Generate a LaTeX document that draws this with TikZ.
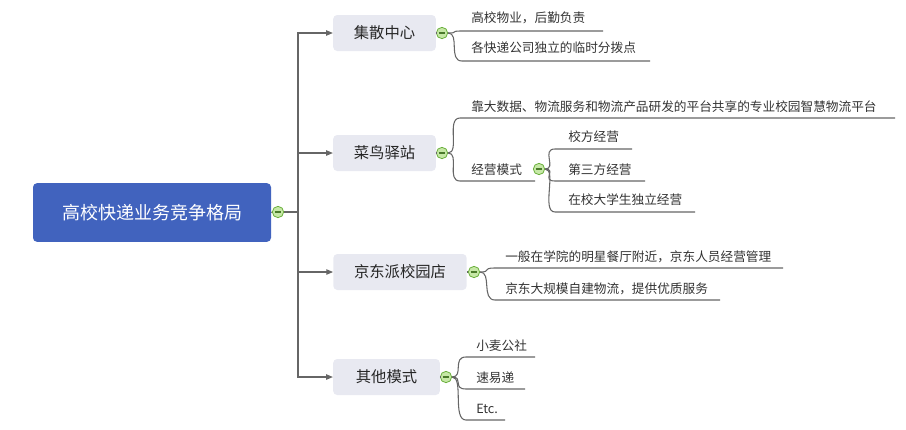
\documentclass[tikz,border=0pt]{standalone}
\usepackage{fontspec}
\setmainfont{Noto Sans CJK SC}
\usetikzlibrary{arrows.meta,calc}
\definecolor{rootc}{HTML}{4163BE}
\definecolor{boxc}{HTML}{E8E9F1}
\definecolor{linec}{HTML}{666666}
\definecolor{circf}{HTML}{C6E8A6}
\definecolor{circd}{HTML}{6AAF3C}
\begin{document}
\begin{tikzpicture}[x=0.75pt,y=-0.75pt,
  ln/.style={draw=linec,line width=0.8pt},
  box/.style={fill=boxc,rounded corners=3pt,minimum height=27pt,inner xsep=14pt,font=\fontsize{11.5}{13}\selectfont,text=black!85},
  leaf/.style={font=\fontsize{9.5}{11}\selectfont,text=black!80,anchor=west,inner sep=0pt},
  tog/.style={circle,draw=circd,fill=circf,minimum size=8.5pt,inner sep=0pt,line width=0.6pt,path picture={\draw[circd!70!black,line width=0.8pt] ([xshift=-2.5pt]path picture bounding box.center)--([xshift=2.5pt]path picture bounding box.center);}}]
\useasboundingbox (0,0) rectangle (906,429);
\newcommand{\cv}[3]{\draw[ln] (#1.east) .. controls ($(#1.east)+(12,0)$) and ($(#2)+(-14,0)$) .. (#2) -- (#3);}
% root
\node[fill=rootc,rounded corners=3pt,minimum width=178.5pt,minimum height=44pt,text=white,font=\fontsize{13.5}{15}\selectfont] (root) at (152,212.5) {高校快递业务竞争格局};
\node[tog] (t0) at (278,212) {};
\draw[ln] (root.east) -- (t0.west);
\coordinate (tr) at (298,212);
\draw[ln] (t0.east) -- (tr);
\node[box,minimum width=77pt] (b1) at (384.5,33) {集散中心};
\node[box,minimum width=77pt] (b2) at (384.5,153) {菜鸟驿站};
\node[box,minimum width=100pt] (b3) at (400,272) {京东派校园店};
\node[box,minimum width=80pt] (b4) at (386.5,377) {其他模式};
\foreach \b/\y in {b1/33,b2/153,b3/272,b4/377}{
  \draw[ln,-{Triangle[length=5pt,width=4pt]}] (tr) -- (298,\y) -- (\b.west);}
\node[tog] (t1) at (442,33) {};
\node[tog] (t2) at (442,153) {};
\node[tog] (t3) at (474,272) {};
\node[tog] (t4) at (446,377) {};
\foreach \b/\t in {b1/t1,b2/t2,b3/t3,b4/t4} \draw[ln] (\b.east) -- (\t.west);
% leaves b1
\node[leaf] at (471,18) {高校物业，后勤负责};
\coordinate (a1) at (462,31); \coordinate (a1e) at (603,31);
\node[leaf] at (471,48) {各快递公司独立的临时分拨点};
\coordinate (a2) at (462,61); \coordinate (a2e) at (650,61);
\cv{t1}{a1}{a1e}\cv{t1}{a2}{a2e}
% b2
\node[leaf] at (471,107) {靠大数据、物流服务和物流产品研发的平台共享的专业校园智慧物流平台};
\coordinate (c1) at (460,118); \coordinate (c1e) at (895,118);
\node[leaf] at (471,170) {经营模式};
\coordinate (c2) at (460,181); \coordinate (c2e) at (535,181);
\cv{t2}{c1}{c1e}\cv{t2}{c2}{c2e}
\node[tog] (t5) at (539,169) {};
\node[leaf] at (568,137) {校方经营};
\coordinate (d1) at (555,149); \coordinate (d1e) at (632,149);
\node[leaf] at (568,170) {第三方经营};
\coordinate (d2) at (555,181); \coordinate (d2e) at (645,181);
\node[leaf] at (568,200) {在校大学生独立经营};
\coordinate (d3) at (555,212); \coordinate (d3e) at (695,212);
\cv{t5}{d1}{d1e}\cv{t5}{d2}{d2e}\cv{t5}{d3}{d3e}
% b3
\node[leaf] at (505,257) {一般在学院的明星餐厅附近，京东人员经营管理};
\coordinate (e1) at (495,268); \coordinate (e1e) at (783,268);
\node[leaf] at (505,289) {京东大规模自建物流，提供优质服务};
\coordinate (e2) at (495,300); \coordinate (e2e) at (720,300);
\cv{t3}{e1}{e1e}\cv{t3}{e2}{e2e}
% b4
\node[leaf] at (476,346) {小麦公社};
\coordinate (f1) at (466,357); \coordinate (f1e) at (535,357);
\node[leaf] at (476,378) {速易递};
\coordinate (f2) at (466,389); \coordinate (f2e) at (525,389);
\node[leaf] at (476,409) {Etc.};
\coordinate (f3) at (466,420); \coordinate (f3e) at (505,420);
\cv{t4}{f1}{f1e}\cv{t4}{f2}{f2e}\cv{t4}{f3}{f3e}
\end{tikzpicture}
\end{document}
